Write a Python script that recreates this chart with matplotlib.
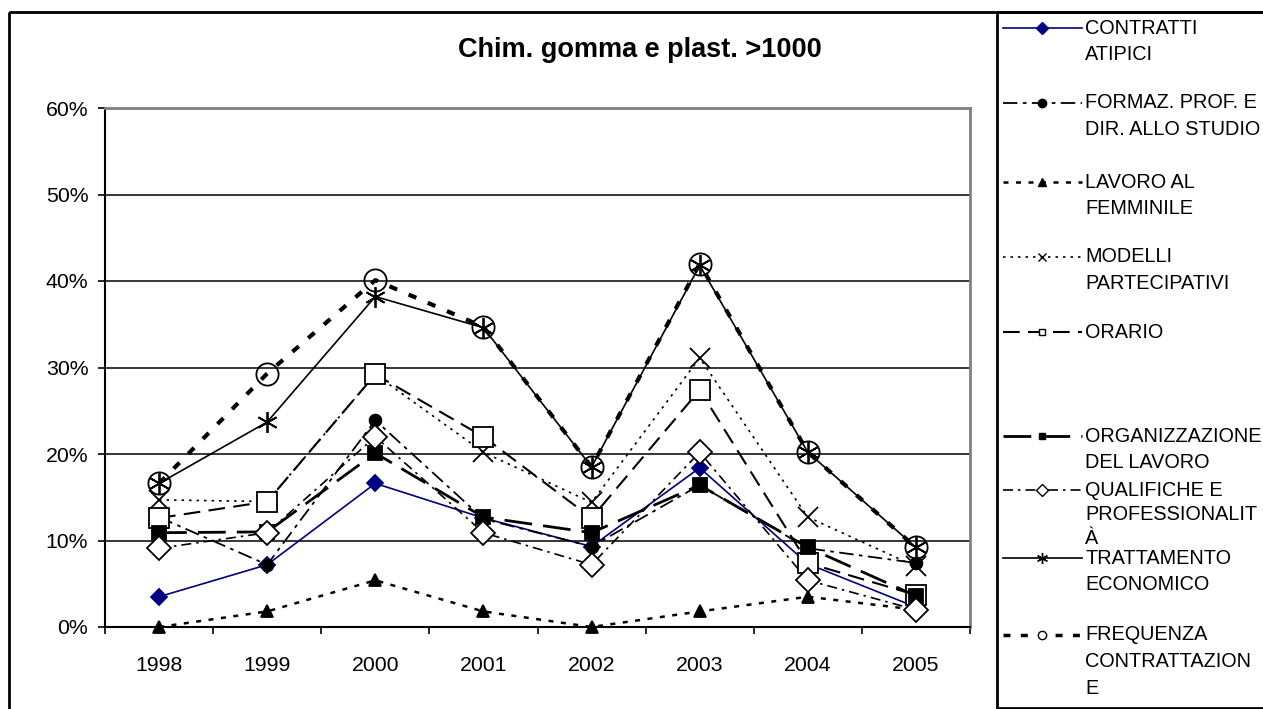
import matplotlib
matplotlib.use("Agg")
import matplotlib.pyplot as plt
from matplotlib.patches import Rectangle
from matplotlib.ticker import FixedLocator, FuncFormatter, NullFormatter

plt.rcParams['font.family'] = ['Liberation Sans', 'DejaVu Sans']

# dati (quote percentuali)
years = ['1998', '1999', '2000', '2001', '2002', '2003', '2004', '2005']
contratti = [3.5, 7.2, 16.6, 12.6, 9.3, 18.4, 7.3, 2.3]
formaz = [12.7, 7.2, 23.9, 12.5, 9.3, 16.4, 9.1, 7.4]
lavoro = [0.0, 1.8, 5.4, 1.8, 0.0, 1.8, 3.5, 2.0]
modelli = [14.7, 14.5, 29.2, 20.2, 14.4, 31.1, 12.7, 7.0]
orario = [12.6, 14.5, 29.2, 22.0, 12.6, 27.4, 7.4, 3.7]
organiz = [10.9, 11.0, 20.1, 12.7, 10.9, 16.4, 9.2, 3.6]
qualif = [9.1, 10.9, 22.0, 10.9, 7.2, 20.2, 5.4, 2.0]
trattamento = [16.6, 23.7, 38.2, 34.6, 18.5, 41.8, 20.2, 9.2]
frequenza = [16.6, 29.3, 40.1, 34.7, 18.5, 42.0, 20.2, 9.2]

labels = [
    "CONTRATTI\nATIPICI",
    "FORMAZ. PROF. E\nDIR. ALLO STUDIO",
    "LAVORO AL\nFEMMINILE",
    "MODELLI\nPARTECIPATIVI",
    "ORARIO",
    "ORGANIZZAZIONE\nDEL LAVORO",
    "QUALIFICHE E\nPROFESSIONALIT\nÀ",
    "TRATTAMENTO\nECONOMICO",
    "FREQUENZA\nCONTRATTAZION\nE",
]
values = [contratti, formaz, lavoro, modelli, orario, organiz, qualif, trattamento, frequenza]

# stile: (colore, linestyle, lw, marker, ms, facecolor, ms_legenda)
styles = [
    ('#000080', '-', 1.2, 'D', 8, '#000080', 6),
    ('black', (0, (8, 3, 2, 3)), 1.3, 'o', 8.5, 'black', 6),
    ('black', (0, (2, 3)), 1.8, '^', 9, 'black', 6),
    ('black', (0, (1.5, 3)), 1.2, 'x', 14, 'black', 6),
    ('black', (0, (8, 4)), 1.5, 's', 14, 'white', 5),
    ('black', (0, (10, 4)), 2.0, 's', 10, 'black', 5),
    ('black', (0, (6, 3, 1.5, 3)), 1.2, 'D', 12.5, 'white', 6),
    ('black', '-', 1.2, (6, 2, 0), 15, 'black', 8),
    ('black', (0, (2, 3)), 3.0, 'o', 16, 'none', 6),
]

fig = plt.figure(figsize=(12.63, 7.09), dpi=100)

# strato di sfondo in pixel: cornice e legenda
bg = fig.add_axes([0, 0, 1, 1])
bg.set_xlim(0, 1263)
bg.set_ylim(709, 0)
bg.axis('off')
bg.add_patch(Rectangle((9, 12), 1400, 900, fill=False, lw=2, ec='black'))
bg.add_patch(Rectangle((997, 12), 400, 696, fill=False, lw=2, ec='black'))

ax = fig.add_axes([105 / 1263, 82 / 709, 865 / 1263, 519 / 709])
x = list(range(len(years)))
for vals, st in zip(values, styles):
    col, ls, lw, mk, ms, fc, _ = st
    ax.plot(x, [v / 100 for v in vals], color=col, linestyle=ls, linewidth=lw,
            marker=mk, markersize=ms, markerfacecolor=fc, markeredgecolor=col,
            markeredgewidth=1.3, clip_on=False)

ax.set_xlim(-0.5, len(years) - 0.5)
ax.set_ylim(0, 0.6)
ax.set_yticks([i / 10 for i in range(7)])
ax.yaxis.set_major_formatter(FuncFormatter(lambda v, p: f"{v * 100:.0f}%"))
ax.xaxis.set_major_locator(FixedLocator([i - 0.5 for i in range(len(years) + 1)]))
ax.xaxis.set_major_formatter(NullFormatter())
ax.xaxis.set_minor_locator(FixedLocator(x))
ax.set_xticklabels(years, minor=True)
ax.tick_params(axis='x', which='major', direction='out', length=5, width=1.2)
ax.tick_params(axis='x', which='minor', length=0, pad=21, labelsize=15.3)
ax.tick_params(axis='y', direction='out', length=5, width=1.2, pad=7, labelsize=15.3)
ax.grid(axis='y', color='black', linewidth=1.1)
ax.set_axisbelow(True)
for s in ['top', 'right']:
    ax.spines[s].set_color('#808080')
    ax.spines[s].set_linewidth(2)
for s in ['left', 'bottom']:
    ax.spines[s].set_color('black')
    ax.spines[s].set_linewidth(1.5)

fig.text(640 / 1263, 1 - 50 / 709, "Chim. gomma e plast. >1000", ha='center', va='center',
         fontsize=19.5, fontweight='bold')

# legenda disegnata a mano
entry_y = [28, 103, 182, 257, 332, 436, 490, 558, 635]
for yy, lab, st in zip(entry_y, labels, styles):
    col, ls, lw, mk, ms, fc, msl = st
    bg.plot([1003, 1082], [yy, yy], color=col, linestyle=ls, linewidth=min(lw, 2.5))
    bg.plot([1042], [yy], marker=mk, markersize=msl, color=col,
            markerfacecolor=fc if fc != 'none' else 'white', markeredgecolor=col)
    lines = lab.split('\n')
    step = 26.5 if len(lines) < 3 or yy > 600 else 24.5
    for k, line in enumerate(lines):
        bg.text(1085, yy + k * step, line, fontsize=14.3, va='center', ha='left')

fig.savefig('out.png', dpi=100)
